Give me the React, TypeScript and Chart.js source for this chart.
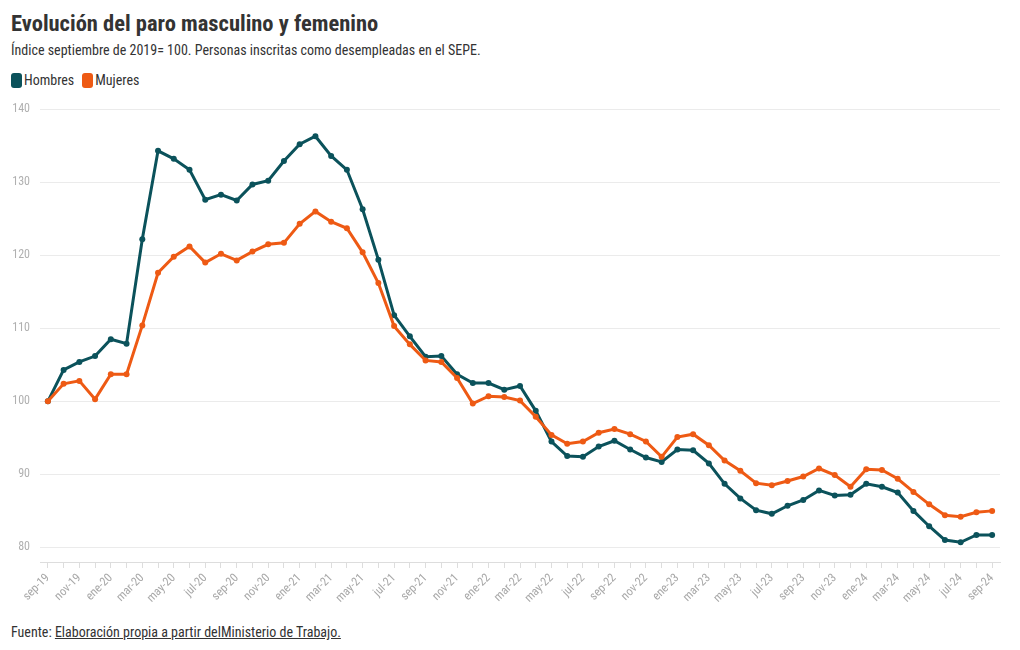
import React, { useEffect, useRef } from "react";
import { Chart, registerables } from "chart.js";

Chart.register(...registerables);

const FONT = "'Roboto Condensed', 'Liberation Sans Narrow', 'Arial Narrow', Roboto, sans-serif";

const categories = [
  "sep-19", "oct-19", "nov-19", "dic-19",
  "ene-20", "feb-20", "mar-20", "abr-20", "may-20", "jun-20", "jul-20", "ago-20", "sep-20", "oct-20", "nov-20", "dic-20",
  "ene-21", "feb-21", "mar-21", "abr-21", "may-21", "jun-21", "jul-21", "ago-21", "sep-21", "oct-21", "nov-21", "dic-21",
  "ene-22", "feb-22", "mar-22", "abr-22", "may-22", "jun-22", "jul-22", "ago-22", "sep-22", "oct-22", "nov-22", "dic-22",
  "ene-23", "feb-23", "mar-23", "abr-23", "may-23", "jun-23", "jul-23", "ago-23", "sep-23", "oct-23", "nov-23", "dic-23",
  "ene-24", "feb-24", "mar-24", "abr-24", "may-24", "jun-24", "jul-24", "ago-24", "sep-24",
];

const hombres = [
  100, 104.3, 105.4, 106.2, 108.5, 107.9, 122.2, 134.3, 133.2, 131.7,
  127.6, 128.3, 127.5, 129.7, 130.2, 132.9, 135.2, 136.3, 133.6, 131.7,
  126.3, 119.4, 111.8, 108.9, 106.1, 106.2, 103.7, 102.5, 102.5, 101.6,
  102.1, 98.7, 94.5, 92.5, 92.4, 93.8, 94.6, 93.4, 92.3, 91.7,
  93.4, 93.3, 91.5, 88.7, 86.7, 85.1, 84.6, 85.7, 86.5, 87.8,
  87.1, 87.2, 88.7, 88.3, 87.5, 85.0, 82.9, 81.0, 80.7, 81.7,
  81.7,
];

const mujeres = [
  100, 102.4, 102.8, 100.3, 103.7, 103.7, 110.4, 117.6, 119.8, 121.2,
  119.0, 120.2, 119.3, 120.5, 121.5, 121.7, 124.3, 126.0, 124.6, 123.7,
  120.4, 116.2, 110.3, 107.8, 105.6, 105.4, 103.2, 99.7, 100.7, 100.6,
  100.1, 97.9, 95.4, 94.2, 94.5, 95.7, 96.2, 95.5, 94.5, 92.4,
  95.1, 95.5, 94.0, 91.9, 90.5, 88.8, 88.5, 89.1, 89.7, 90.8,
  89.9, 88.3, 90.7, 90.6, 89.4, 87.6, 85.9, 84.4, 84.2, 84.8,
  85.0,
];

const yTicks = [80, 90, 100, 110, 120, 130, 140];

const seriesNames = ["Hombres", "Mujeres"];
const seriesColors = ["#0b525b", "#ee5a14"];

export default function App() {
  const canvasRef = useRef<HTMLCanvasElement | null>(null);

  useEffect(() => {
    const canvas = canvasRef.current;
    if (!canvas) return;
    const chart = new Chart(canvas, {
      type: "line",
      data: {
        labels: categories,
        datasets: [hombres, mujeres].map((d, i) => ({
          label: seriesNames[i],
          data: d,
          borderColor: seriesColors[i],
          backgroundColor: seriesColors[i],
          borderWidth: 3,
          pointRadius: 3,
          pointHoverRadius: 3,
          pointBorderWidth: 0,
          tension: 0,
          order: 1 - i,
        })),
      },
      options: {
        animation: false,
        responsive: false,
        maintainAspectRatio: false,
        layout: { padding: { top: 0, right: 12, left: 0, bottom: 0 } },
        plugins: {
          legend: { display: false },
          tooltip: { enabled: false },
        },
        scales: {
          x: {
            offset: true,
            grid: {
              display: true,
              drawOnChartArea: false,
              drawTicks: true,
              tickLength: 6,
              color: "#dddddd",
              offset: false,
            },
            border: { display: true, color: "#dddddd" },
            ticks: {
              autoSkip: false,
              maxRotation: 45,
              minRotation: 45,
              padding: 3,
              color: "#a8a8a8",
              font: { family: FONT, size: 12 },
              callback: (_v: any, i: number) => (i % 2 === 0 ? categories[i] : ""),
            },
            afterFit: (scale: any) => {
              scale.height = 48;
            },
          },
          y: {
            min: 78,
            max: 140,
            grid: { color: "#ebebeb", drawTicks: false },
            border: { display: false },
            ticks: {
              padding: 10,
              color: "#b0b0b0",
              font: { family: FONT, size: 12 },
            },
            afterBuildTicks: (scale: any) => {
              scale.ticks = yTicks.map((v) => ({ value: v }));
            },
            afterFit: (scale: any) => {
              scale.width = 32;
            },
          },
        },
      },
    });
    return () => chart.destroy();
  }, []);

  const textStyle: React.CSSProperties = { fontFamily: FONT, color: "#333", position: "absolute", left: 3, whiteSpace: "nowrap" };

  return (
    <div style={{ position: "relative", width: 1004, height: 634 }}>
      <div style={{ ...textStyle, top: 2, fontSize: 22.5, lineHeight: "26px", fontWeight: 700 }}>
        Evolución del paro masculino y femenino
      </div>
      <div style={{ ...textStyle, top: 34, fontSize: 14, lineHeight: "16px" }}>
        Índice septiembre de 2019= 100. Personas inscritas como desempleadas en el SEPE.
      </div>
      <div style={{ ...textStyle, top: 64, fontSize: 14, lineHeight: "16px", display: "flex", alignItems: "center" }}>
        {seriesNames.map((n, i) => (
          <span key={n} style={{ display: "inline-flex", alignItems: "center", marginRight: 8 }}>
            <span style={{ display: "inline-block", width: 11, height: 15, borderRadius: 3, background: seriesColors[i], marginRight: 2 }} />
            {n}
          </span>
        ))}
      </div>
      <canvas ref={canvasRef} width={1004} height={518} style={{ position: "absolute", left: 0, top: 84, width: 1004, height: 518 }} />
      <div style={{ ...textStyle, top: 616, fontSize: 14, lineHeight: "16px" }}>
        Fuente: <span style={{ textDecoration: "underline" }}>Elaboración propia a partir delMinisterio de Trabajo.</span>
      </div>
    </div>
  );
}
